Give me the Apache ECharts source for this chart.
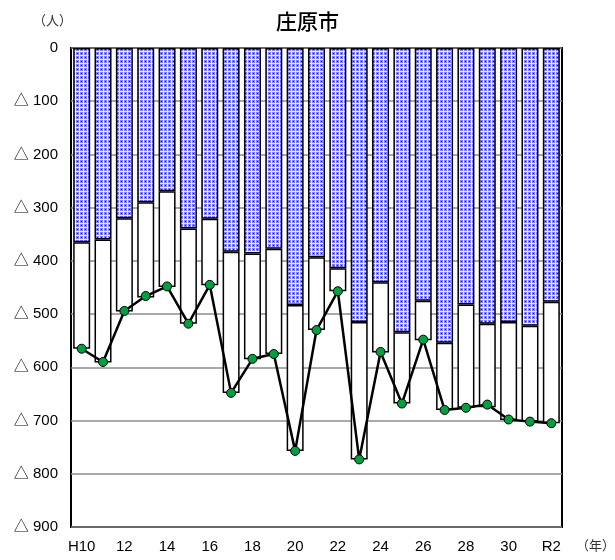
<!DOCTYPE html>
<html>
<head>
<meta charset="utf-8">
<script src="https://cdn.jsdelivr.net/npm/echarts@6/dist/echarts.min.js"></script>
<style>
  html, body { margin: 0; padding: 0; background: #fff; }
  #chart { width: 615px; height: 560px; }
</style>
</head>
<body>
<div id="chart"></div>
<script>
// 年次
const years = ['H10', '11', '12', '13', '14', '15', '16', '17', '18', '19', '20',
  '21', '22', '23', '24', '25', '26', '27', '28', '29', '30', 'R1', 'R2'];
// 自然減（青）
const natural = [365, 360, 320, 290, 269, 339, 321, 383, 386, 377, 483,
  393, 414, 515, 440, 534, 475, 554, 482, 518, 515, 522, 477];
// 社会減（白）
const social = [200, 231, 175, 179, 180, 179, 125, 265, 199, 198, 274,
  137, 43, 258, 132, 134, 74, 126, 194, 157, 184, 180, 228];
// 人口減少数（折れ線）
const total = [565, 590, 494, 466, 448, 518, 445, 648, 584, 575, 757,
  530, 457, 773, 571, 668, 548, 680, 676, 670, 698, 702, 705];
const yTicks = [0, 100, 200, 300, 400, 500, 600, 700, 800, 900];

// dotted blue fill
const tile = document.createElement('canvas');
tile.width = 4;
tile.height = 4;
const ctx = tile.getContext('2d');
ctx.fillStyle = '#ececff';
ctx.fillRect(0, 0, 4, 4);
ctx.fillStyle = '#8080ff';
ctx.fillRect(0, 0, 3, 3);
ctx.fillStyle = '#1010f0';
ctx.fillRect(1, 1, 1, 1);

const font = '"Liberation Sans", "Noto Sans CJK JP", sans-serif';
const jpFont = '"Noto Sans CJK JP", sans-serif';
const myChart = echarts.init(document.getElementById('chart'));
myChart.setOption({
  animation: false,
  backgroundColor: '#fff',
  title: {
    text: '庄原市',
    left: 'center',
    top: 6,
    textStyle: { fontFamily: jpFont, fontSize: 21, fontWeight: 500, color: '#000' }
  },
  graphic: [
    { type: 'text', left: 33, top: 14, style: { text: '（人）', font: '13px ' + jpFont, fill: '#333' } },
    { type: 'text', left: 576, top: 539, style: { text: '（年）', font: '13px ' + jpFont, fill: '#333' } }
  ],
  grid: {
    left: 71, right: 53, top: 48, bottom: 33,
    show: true, borderColor: '#000', borderWidth: 2
  },
  xAxis: {
    type: 'category',
    data: years,
    axisLine: { show: false },
    axisTick: { show: false },
    axisLabel: {
      interval: 1,
      color: '#000',
      fontFamily: font,
      fontSize: 15,
      margin: 12
    }
  },
  yAxis: {
    type: 'value',
    inverse: true,
    min: yTicks[0],
    max: yTicks[yTicks.length - 1],
    interval: 100,
    axisLine: { show: false },
    axisTick: { show: false },
    axisLabel: {
      color: '#000',
      fontFamily: font,
      fontSize: 15,
      margin: 13,
      padding: [3, 0, 0, 0],
      formatter: v => (v === 0 ? '0' : '△ ' + v)
    },
    splitLine: { lineStyle: { color: '#8c8c8c', width: 1.5 } }
  },
  series: [
    {
      name: '自然減',
      type: 'bar',
      stack: 'a',
      barWidth: 17,
      data: natural,
      itemStyle: {
        color: { image: tile, repeat: 'repeat' },
        borderColor: '#000',
        borderWidth: 1.5
      }
    },
    {
      name: '社会減',
      type: 'bar',
      stack: 'a',
      barWidth: 17,
      data: social,
      itemStyle: { color: '#fff', borderColor: '#000', borderWidth: 1.5 }
    },
    {
      name: '人口減',
      type: 'line',
      data: total,
      symbol: 'circle',
      symbolSize: 9,
      z: 5,
      lineStyle: { color: '#000', width: 2.5 },
      itemStyle: { color: '#00a040', borderColor: '#000', borderWidth: 1 }
    }
  ]
});
</script>
</body>
</html>
